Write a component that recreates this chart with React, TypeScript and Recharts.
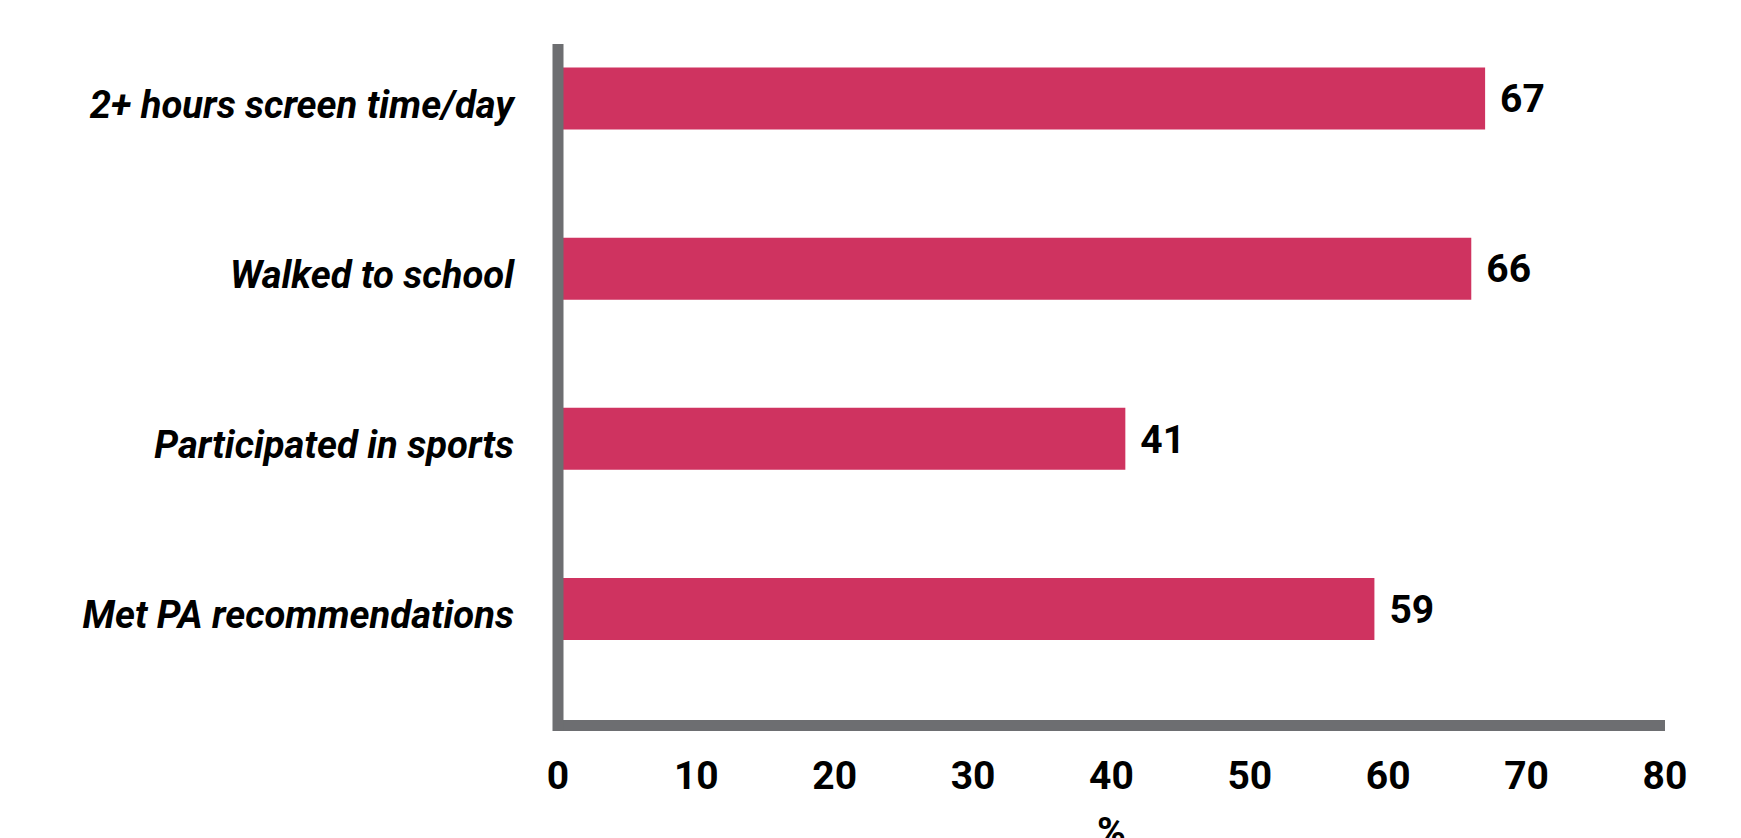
import { BarChart, Bar, XAxis, YAxis, LabelList, Label } from 'recharts';

const categories = [
  '2+ hours screen time/day',
  'Walked to school',
  'Participated in sports',
  'Met PA recommendations',
];
const percentages = [67, 66, 41, 59];
const xTicks = [0, 10, 20, 30, 40, 50, 60, 70, 80];

const data = categories.map((label, i) => ({ label, value: percentages[i] }));

const BAR_COLOR = '#CF3360';
const AXIS_COLOR = '#6D6E71';
const FONT = 'Roboto, "Noto Sans", sans-serif';

function CategoryTick({ x, y, payload }: any) {
  return (
    <text
      x={x}
      y={y}
      dy={19}
      textAnchor="end"
      fontFamily={FONT}
      fontWeight={700}
      fontStyle="italic"
      fontSize={38.2}
      fill="#000"
    >
      {payload.value}
    </text>
  );
}

export default function App() {
  return (
    <div>
      <style>{`body{margin:0;overflow:hidden;background:#fff}`}</style>
      <BarChart
        width={1741}
        height={860}
        data={data}
        layout="vertical"
        margin={{ top: 49.5, right: 76, bottom: 24.5, left: 0 }}
      >
        <Bar dataKey="value" fill={BAR_COLOR} barSize={62} isAnimationActive={false}>
          <LabelList
            dataKey="value"
            position="right"
            offset={15}
            fontFamily={FONT}
            fontWeight={700}
            fontSize={39}
            fill="#000"
          />
        </Bar>
        <XAxis
          type="number"
          domain={[0, 80]}
          ticks={xTicks}
          height={110}
          tickSize={0}
          tickMargin={36}
          tickLine={false}
          axisLine={{ stroke: AXIS_COLOR, strokeWidth: 11 }}
          tick={{ fill: '#000', fontSize: 39, fontWeight: 700, fontFamily: FONT }}
        >
          <Label
            value="%"
            position="insideTop"
            offset={91.5}
            fill="#000"
            fontSize={39}
            fontWeight={700}
            fontFamily={FONT}
          />
        </XAxis>
        <YAxis
          type="category"
          dataKey="label"
          width={558}
          padding={{ top: -36, bottom: 31.5 }}
          tickSize={0}
          tickMargin={44}
          tickLine={false}
          axisLine={{ stroke: AXIS_COLOR, strokeWidth: 11, strokeLinecap: 'square' }}
          tick={<CategoryTick />}
        />
      </BarChart>
    </div>
  );
}
